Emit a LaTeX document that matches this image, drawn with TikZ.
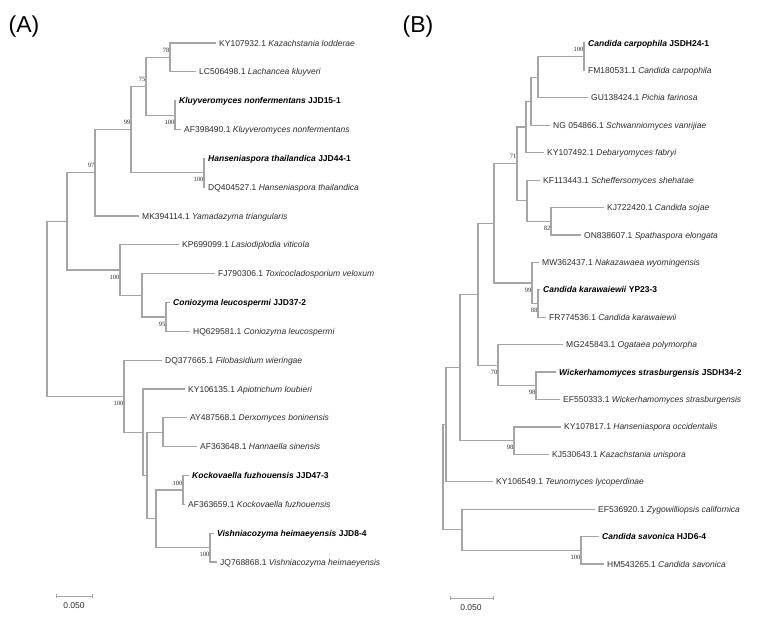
\documentclass[tikz,border=0pt]{standalone}
\usepackage{fontspec}
\setmainfont{Liberation Sans}
\newfontfamily\bsf{Liberation Serif}
\definecolor{brc}{RGB}{165,165,165}
\definecolor{tx}{RGB}{45,45,45}
\begin{document}
\begin{tikzpicture}[x=1pt,y=-1pt,
  br/.style={draw=brc, line width=1.2pt},
  lf/.style={anchor=west, inner sep=3pt, text height=7pt, text depth=1pt, text=tx, font=\fontsize{8.5}{10}\selectfont},
  lfb/.style={lf, text=black, font=\fontsize{8.5}{10}\selectfont\bfseries},
  bsu/.style={anchor=east, inner sep=0.5pt, yshift=7pt, text=tx, font=\bsf\fontsize{6.5}{7}\selectfont},
  bsd/.style={bsu, yshift=-14pt},
  panel/.style={inner sep=0pt, font=\fontsize{23}{25}\selectfont, text=black},
  sc/.style={inner sep=0pt, text=tx, font=\fontsize{8.5}{10}\selectfont}]
\fill[white] (0,0) rectangle (767,621);
\useasboundingbox (0,0) rectangle (767,621);

\node[panel] (pa) at (24,27) {(A)};
\node[panel] (pb) at (418,27) {(B)};

% ---------------- Panel A ----------------
\coordinate (rA) at (47,308.8);
\coordinate (a67) at (67,221.4);
\coordinate (a97) at (95,172.75);
\coordinate (a99) at (131,129.5);
\coordinate (a75) at (146,86.25);
\coordinate (a78) at (170,57.4);
\coordinate (aK) at (175,115.1);
\coordinate (aH) at (204,172.75);
\coordinate (aL) at (120,270);
\coordinate (aT) at (142,295.25);
\coordinate (aC) at (166,316.9);
\coordinate (a124) at (124,396.15);
\coordinate (a143) at (143,432.2);
\coordinate (a147) at (147,475.45);
\coordinate (aD) at (163,432.2);
\coordinate (a156) at (156,518.7);
\coordinate (aKo) at (183,489.9);
\coordinate (aV) at (210,547.55);

\node[lf] (A1) at (216,43) {KY107932.1 \textit{Kazachstania lodderae}};
\node[lf] (A2) at (196,71.8) {LC506498.1 \textit{Lachancea kluyveri}};
\node[lfb] (A3) at (176,100.7) {\textit{Kluyveromyces nonfermentans} JJD15-1};
\node[lf] (A4) at (181,129.5) {AF398490.1 \textit{Kluyveromyces nonfermentans}};
\node[lfb] (A5) at (205,158.3) {\textit{Hanseniaspora thailandica} JJD44-1};
\node[lf] (A6) at (205,187.2) {DQ404527.1 \textit{Hanseniaspora thailandica}};
\node[lf] (A7) at (139,216) {MK394114.1 \textit{Yamadazyma triangularis}};
\node[lf] (A8) at (179,244.8) {KP699099.1 \textit{Lasiodiplodia viticola}};
\node[lf] (A9) at (215,273.6) {FJ790306.1 \textit{Toxicocladosporium veloxum}};
\node[lfb] (A10) at (170,302.5) {\textit{Coniozyma leucospermi} JJD37-2};
\node[lf] (A11) at (190,331.3) {HQ629581.1 \textit{Coniozyma leucospermi}};
\node[lf] (A12) at (162,360.1) {DQ377665.1 \textit{Filobasidium wieringae}};
\node[lf] (A13) at (185,389) {KY106135.1 \textit{Apiotrichum loubieri}};
\node[lf] (A14) at (187,417.8) {AY487568.1 \textit{Derxomyces boninensis}};
\node[lf] (A15) at (197,446.6) {AF363648.1 \textit{Hannaella sinensis}};
\node[lfb] (A16) at (189,475.5) {\textit{Kockovaella fuzhouensis} JJD47-3};
\node[lf] (A17) at (185,504.3) {AF363659.1 \textit{Kockovaella fuzhouensis}};
\node[lfb] (A18) at (214,533.1) {\textit{Vishniacozyma heimaeyensis} JJD8-4};
\node[lf] (A19) at (217,562) {JQ768868.1 \textit{Vishniacozyma heimaeyensis}};

\draw[br] (a67) -| (rA) |- (a124);
\draw[br] (a97) -| (a67) |- (aL);
\draw[br] (a99) -| (a97) |- (A7.west);
\draw[br] (a75) -| (a99) |- (aH);
\draw[br] (a78) -| (a75) |- (aK);
\draw[br] (A1.west) -| (a78) |- (A2.west);
\draw[br] (A3.west) -| (aK) |- (A4.west);
\draw[br] (A5.west) -| (aH) |- (A6.west);
\draw[br] (A8.west) -| (aL) |- (aT);
\draw[br] (A9.west) -| (aT) |- (aC);
\draw[br] (A10.west) -| (aC) |- (A11.west);
\draw[br] (A12.west) -| (a124) |- (a143);
\draw[br] (A13.west) -| (a143) |- (a147);
\draw[br] (aD) -| (a147) |- (a156);
\draw[br] (A14.west) -| (aD) |- (A15.west);
\draw[br] (aKo) -| (a156) |- (aV);
\draw[br] (A16.west) -| (aKo) |- (A17.west);
\draw[br] (A18.west) -| (aV) |- (A19.west);

\node[bsu] (lA78) at (a78) {78};
\node[bsu] (lA75) at (a75) {75};
\node[bsu] (lA99) at (a99) {99};
\node[bsu] (lA97) at (a97) {97};
\node[bsd] (lAK) at (aK) {100};
\node[bsd] (lAH) at (aH) {100};
\node[bsd] (lAL) at (aL) {100};
\node[bsd] (lAC) at (aC) {95};
\node[bsd] (lA124) at (a124) {100};
\node[bsu] (lAKo) at (aKo) {100};
\node[bsd] (lAV) at (aV) {100};

\coordinate (sA1) at (56,596);
\coordinate (sA2) at (92,596);
\draw[br, line width=1pt] (sA1) -- (sA2);
\draw[br, line width=1pt] (56,594.3) -- (56,597.7);
\draw[br, line width=1pt] (92,594.3) -- (92,597.7);
\node[sc] (sAt) at (74,605.5) {0.050};

% ---------------- Panel B ----------------
\coordinate (pR) at (443,477.15);
\coordinate (p446) at (446,424.6);
\coordinate (p460) at (460,367.45);
\coordinate (p478) at (478,294.3);
\coordinate (p494) at (494,223.4);
\coordinate (p71) at (517,163.85);
\coordinate (p526) at (526,127);
\coordinate (p531) at (531,101.3);
\coordinate (p538) at (538,77.25);
\coordinate (pCc) at (584,56.7);
\coordinate (p527) at (527,200.7);
\coordinate (p82) at (551,221.25);
\coordinate (p99) at (532,282.95);
\coordinate (p88) at (538,303.5);
\coordinate (p70) at (498,365.2);
\coordinate (pW) at (536,385.75);
\coordinate (p98) at (514,440.6);
\coordinate (p462) at (462,529.7);
\coordinate (pS) at (581,550.3);

\node[lfb] (B1) at (585,43) {\textit{Candida carpophila} JSDH24-1};
\node[lf] (B2) at (585,70.4) {FM180531.1 \textit{Candida carpophila}};
\node[lf] (B3) at (588,97.8) {GU138424.1 \textit{Pichia farinosa}};
\node[lf] (B4) at (550,125.3) {NG 054866.1 \textit{Schwanniomyces vanrijiae}};
\node[lf] (B5) at (544,152.7) {KY107492.1 \textit{Debaryomyces fabryi}};
\node[lf] (B6) at (540,180.1) {KF113443.1 \textit{Scheffersomyces shehatae}};
\node[lf] (B7) at (604,207.5) {KJ722420.1 \textit{Candida sojae}};
\node[lf] (B8) at (581,235) {ON838607.1 \textit{Spathaspora elongata}};
\node[lf] (B9) at (539,262.4) {MW362437.1 \textit{Nakazawaea wyomingensis}};
\node[lfb] (B10) at (540,289.8) {\textit{Candida karawaiewii} YP23-3};
\node[lf] (B11) at (546,317.2) {FR774536.1 \textit{Candida karawaiewii}};
\node[lf] (B12) at (563,344.6) {MG245843.1 \textit{Ogataea polymorpha}};
\node[lfb] (B13) at (556,372) {\textit{Wickerhamomyces strasburgensis} JSDH34-2};
\node[lf] (B14) at (560,399.5) {EF550333.1 \textit{Wickerhamomyces strasburgensis}};
\node[lf] (B15) at (561,426.9) {KY107817.1 \textit{Hanseniaspora occidentalis}};
\node[lf] (B16) at (549,454.3) {KJ530643.1 \textit{Kazachstania unispora}};
\node[lf] (B17) at (493,481.7) {KY106549.1 \textit{Teunomyces lycoperdinae}};
\node[lf] (B18) at (595,509.1) {EF536920.1 \textit{Zygowilliopsis californica}};
\node[lfb] (B19) at (599,536.6) {\textit{Candida savonica} HJD6-4};
\node[lf] (B20) at (604,564) {HM543265.1 \textit{Candida savonica}};

\draw[br] (p446) -| (pR) |- (p462);
\draw[br] (p460) -| (p446) |- (B17.west);
\draw[br] (p478) -| (p460) |- (p98);
\draw[br] (p494) -| (p478) |- (p70);
\draw[br] (p71) -| (p494) |- (p99);
\draw[br] (p526) -| (p71) |- (p527);
\draw[br] (p531) -| (p526) |- (B5.west);
\draw[br] (p538) -| (p531) |- (B4.west);
\draw[br] (pCc) -| (p538) |- (B3.west);
\draw[br] (B1.west) -| (pCc) |- (B2.west);
\draw[br] (B6.west) -| (p527) |- (p82);
\draw[br] (B7.west) -| (p82) |- (B8.west);
\draw[br] (B9.west) -| (p99) |- (p88);
\draw[br] (B10.west) -| (p88) |- (B11.west);
\draw[br] (B12.west) -| (p70) |- (pW);
\draw[br] (B13.west) -| (pW) |- (B14.west);
\draw[br] (B15.west) -| (p98) |- (B16.west);
\draw[br] (B18.west) -| (p462) |- (pS);
\draw[br] (B19.west) -| (pS) |- (B20.west);

\node[bsu] (lBCc) at (pCc) {100};
\node[bsu] (lB71) at (p71) {71};
\node[bsd] (lB82) at (p82) {82};
\node[bsd] (lB99) at (p99) {99};
\node[bsd] (lB88) at (p88) {88};
\node[bsd] (lB70) at (p70) {70};
\node[bsd] (lBW) at (pW) {98};
\node[bsd] (lB98) at (p98) {98};
\node[bsd] (lBS) at (pS) {100};

\coordinate (sB1) at (450,598);
\coordinate (sB2) at (493,598);
\draw[br, line width=1pt] (sB1) -- (sB2);
\draw[br, line width=1pt] (450,596.3) -- (450,599.7);
\draw[br, line width=1pt] (493,596.3) -- (493,599.7);
\node[sc] (sBt) at (471,607.5) {0.050};
\end{tikzpicture}
\end{document}
